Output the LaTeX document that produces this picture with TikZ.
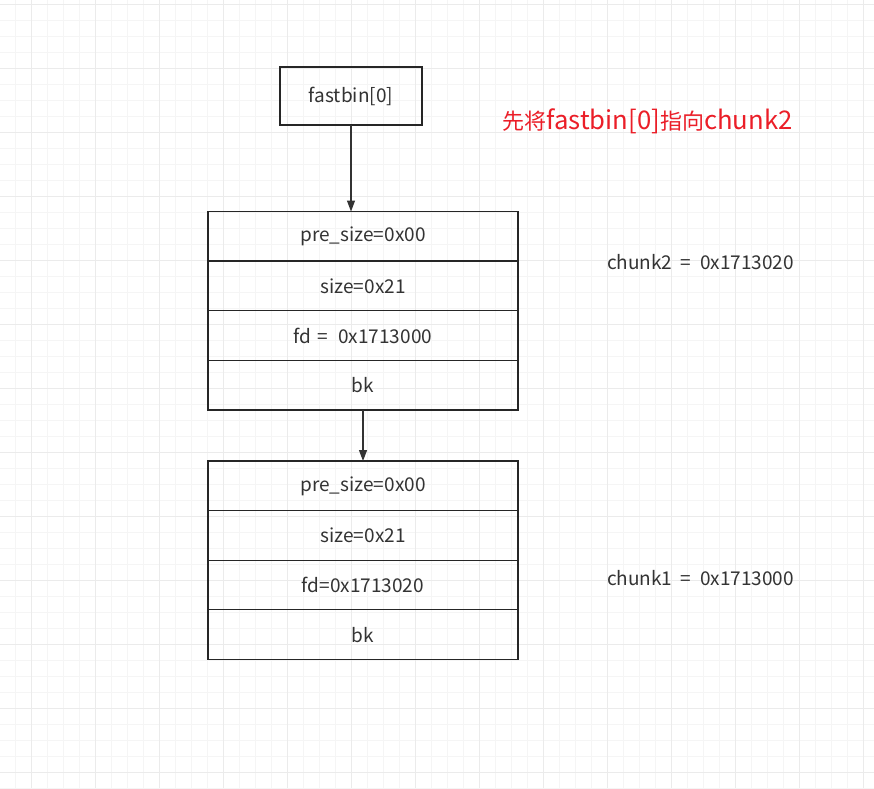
\documentclass[tikz,border=0pt]{standalone}
\usepackage{fontspec}
\setmainfont{Noto Sans CJK SC}
\usetikzlibrary{arrows.meta,positioning}
\definecolor{myred}{RGB}{235,30,40}
\definecolor{mytext}{RGB}{51,51,51}
\definecolor{gridmin}{RGB}{245,245,245}
\definecolor{gridmaj}{RGB}{235,235,235}
\newcommand{\hanzi}[1]{{\fontsize{22}{26}\selectfont #1}}

\begin{document}
\begin{tikzpicture}[
    x=1pt,y=-1pt,
    node distance=0pt,
    field/.style={draw=black!85,line width=1.3pt,minimum width=310pt,minimum height=49.6pt,inner sep=0pt,outer sep=0pt,font=\fontsize{19}{22}\selectfont,text=mytext},
    binbox/.style={field,minimum width=142pt,minimum height=58pt},
    note/.style={font=\fontsize{19}{22}\selectfont,text=mytext,inner sep=0pt,anchor=base},
    arr/.style={-{Triangle[length=11pt,width=8pt]},line width=1.1pt,black!80}
]
% background grid
\useasboundingbox (0,0) rectangle (874,788);
\fill[white] (0,0) rectangle (874,788);
\foreach \i in {0,...,54}
    \draw[gridmin,line width=1pt] ({-0.5+16*\i},0) -- ++(0,788);
\foreach \j in {0,...,49}
    \draw[gridmin,line width=1pt] (0,{4+16*\j}) -- ++(874,0);
\foreach \i in {0,...,13}
    \draw[gridmaj,line width=1pt] ({31.5+64*\i},0) -- ++(0,788);
\foreach \j in {0,...,12}
    \draw[gridmaj,line width=1pt] (0,{4+64*\j}) -- ++(874,0);

% fastbin head
\node[binbox] (fb) at (351,96) {fastbin[0]};
\node[font=\fontsize{25.7}{30}\selectfont,text=myred,inner sep=0pt,anchor=base] (msg) at (647.5,129) {\hanzi{先将}fastbin[0]\hanzi{指向}chunk2};

% chunk2
\node[field,anchor=north] (c2a) at (363,211.5) {pre\_size=0x00};
\node[field,below=of c2a] (c2b) {size=0x21};
\node[field,below=of c2b] (c2c) {fd\hspace{0.3em}=\hspace{0.55em}0x1713000};
\node[field,below=of c2c] (c2d) {bk};
\node[note] (c2n) at (700.5,269.5) {chunk2\hspace{0.45em}=\hspace{0.45em}0x1713020};

% chunk1
\node[field,anchor=north] (c1a) at (363,461) {pre\_size=0x00};
\node[field,below=of c1a] (c1b) {size=0x21};
\node[field,below=of c1b] (c1c) {fd=0x1713020};
\node[field,below=of c1c] (c1d) {bk};
\node[note] (c1n) at (700.5,585.5) {chunk1\hspace{0.45em}=\hspace{0.45em}0x1713000};

\draw[arr] (fb.south) -- (fb.south |- c2a.north);
\draw[arr] (c2d.south) -- (c1a.north);
\end{tikzpicture}
\end{document}
